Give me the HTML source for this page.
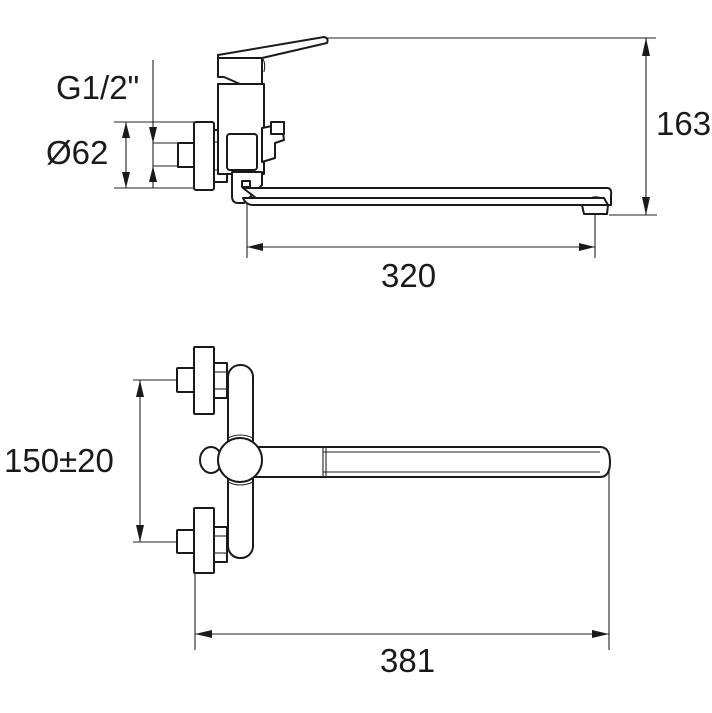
<!DOCTYPE html>
<html><head><meta charset="utf-8"><style>
html,body{margin:0;padding:0;background:#fff;}
svg{display:block}
text{font-family:"Liberation Sans",sans-serif;font-size:33px;fill:#1a1a1a}
.o{fill:#fff;stroke:#1a1a1a;stroke-width:2;stroke-linejoin:round}
.d{stroke:#222;stroke-width:1.1;fill:none}
.a{fill:#1a1a1a}
</style></head><body>
<svg width="712" height="713" viewBox="0 0 712 713" xmlns="http://www.w3.org/2000/svg">
<line class="d" x1="114" y1="122" x2="196" y2="122"/>
<line class="d" x1="114" y1="188" x2="196" y2="188"/>
<line class="d" x1="126" y1="122" x2="126" y2="188"/>
<polygon class="a" points="126,122 122,138 130,138"/>
<polygon class="a" points="126,188 122,172 130,172"/>
<line class="d" x1="153" y1="60" x2="153" y2="188"/>
<line class="d" x1="153" y1="143" x2="178" y2="143"/>
<line class="d" x1="153" y1="166" x2="178" y2="166"/>
<polygon class="a" points="153,143 149,127 157,127"/>
<polygon class="a" points="153,166 149,182 157,182"/>
<text x="56" y="99">G1/2"</text>
<text x="46" y="164">Ø62</text>
<line class="d" x1="327" y1="38" x2="656" y2="38"/>
<line class="d" x1="609" y1="215" x2="657" y2="215"/>
<line class="d" x1="646" y1="38" x2="646" y2="215"/>
<polygon class="a" points="646,38 642,56 650,56"/>
<polygon class="a" points="646,215 642,197 650,197"/>
<text x="656" y="135">163</text>
<line class="d" x1="247" y1="200" x2="247" y2="258"/>
<line class="d" x1="595" y1="208" x2="595" y2="258"/>
<line class="d" x1="247" y1="247" x2="595" y2="247"/>
<polygon class="a" points="247,247 263,243 263,251"/>
<polygon class="a" points="595,247 579,243 579,251"/>
<text x="381" y="287">320</text>
<rect class="o" x="178" y="143" width="16" height="24"/>
<rect class="o" x="194" y="122" width="20" height="68" rx="2"/>
<rect class="o" x="214" y="130" width="13" height="52"/>
<line class="d" x1="214" y1="142" x2="227" y2="142"/><line class="d" x1="214" y1="170" x2="227" y2="170"/>
<rect class="o" x="218" y="84" width="46" height="90"/>
<path class="o" d="M232,172 L262,172 L262,185 L244,203 L238,203 Q232,203 232,196 Z"/>
<rect class="o" x="242" y="181" width="8" height="6"/>
<path class="o" d="M243,188 L608,188 Q612,189 611,195 L611,205 L586,205 Q590,195 600,198 L256,198 Z"/>
<path class="o" d="M243,198 L604,198 L608,205 L253,205 Q246,205 243,198 Z"/>
<path class="o" d="M582,205 L608,205 L607,214 L584,214 Z"/>
<rect class="o" x="227" y="134" width="30" height="36" rx="3"/>
<path class="o" d="M262,128 L282,124 L284,140 L275,143 L275,158 L262,162 Z"/>
<rect class="o" x="271" y="122" width="13" height="12"/>
<path class="o" d="M218,55 L218,77 L224,77 L240,84 L262,84 L262,54 Z"/>
<path class="o" d="M218,55 L324,37 Q329,38 327,43 L262,58 L218,58 Z"/>
<path class="d" d="M262,58 Q266,62 264,72"/>
<line class="d" x1="133" y1="380" x2="178" y2="380"/>
<line class="d" x1="133" y1="542" x2="178" y2="542"/>
<line class="d" x1="140" y1="380" x2="140" y2="542"/>
<polygon class="a" points="140,380 136,397 144,397"/>
<polygon class="a" points="140,542 136,525 144,525"/>
<text x="4" y="472">150±20</text>
<line class="d" x1="195" y1="570" x2="195" y2="650"/>
<line class="d" x1="609" y1="470" x2="609" y2="650"/>
<line class="d" x1="195" y1="634" x2="609" y2="634"/>
<polygon class="a" points="195,634 212,630 212,638"/>
<polygon class="a" points="609,634 592,630 592,638"/>
<text x="380" y="672">381</text>
<rect class="o" x="228" y="365" width="25" height="193" rx="12"/>
<rect class="o" x="177" y="368" width="17" height="24" rx="1"/>
<rect class="o" x="194" y="347" width="20" height="67" rx="1"/>
<rect class="o" x="214" y="363" width="13" height="35"/>
<line class="d" x1="214" y1="372" x2="227" y2="372"/><line class="d" x1="214" y1="389" x2="227" y2="389"/>
<rect class="o" x="177" y="530" width="17" height="23" rx="1"/>
<rect class="o" x="194" y="508" width="20" height="65" rx="1"/>
<rect class="o" x="214" y="527" width="13" height="35"/>
<line class="d" x1="214" y1="536" x2="227" y2="536"/><line class="d" x1="214" y1="553" x2="227" y2="553"/>
<path class="o" d="M253,447 L600,447 Q610,447 610,462 Q610,477 600,477 L253,477 Z"/>
<path class="d" d="M323,452 L600,452 M323,472 L600,472 M323,447 L323,477 M326,447 L326,477"/>
<ellipse class="o" cx="211" cy="460" rx="11" ry="13"/>
<circle class="o" cx="240" cy="460" r="22"/>
<path class="d" d="M228,438 Q240,432 253,438 M228,482 Q240,488 253,482"/>
</svg>
</body></html>
